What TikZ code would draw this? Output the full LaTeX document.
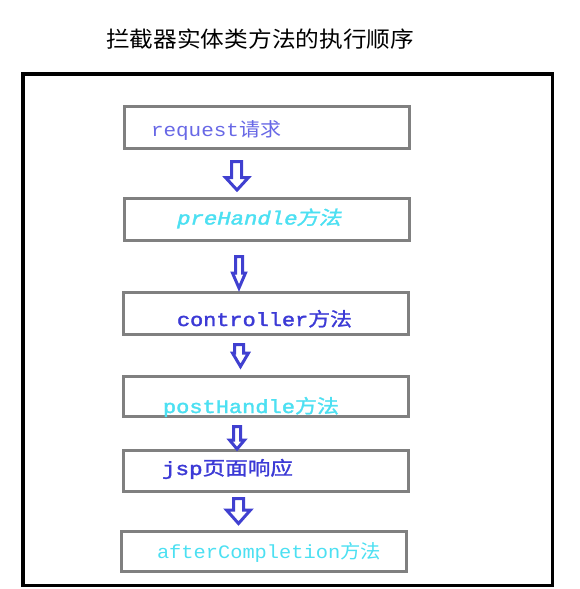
\documentclass[tikz,border=0pt]{standalone}
\usepackage{fontspec}
\usepackage{graphicx}
\setmainfont{Liberation Mono}
\newfontfamily\cjk{Noto Sans CJK SC}
\newfontfamily\cjkb[FakeBold=1.2]{Noto Sans CJK SC}
\newfontfamily\cjkbi[FakeSlant=0.2,FakeBold=1.2]{Noto Sans CJK SC}
\newfontfamily\lmono{Liberation Mono}
\newfontfamily\lmonob[FakeBold=1.8]{Liberation Mono}
\newfontfamily\lmonobi[FakeBold=1.8,FakeSlant=0.2]{Liberation Mono}
\definecolor{framegray}{RGB}{128,128,128}
\definecolor{arrowblue}{RGB}{64,64,208}
\definecolor{txtlav}{RGB}{104,104,230}
\definecolor{txtblue}{RGB}{60,58,214}
\definecolor{txtcyan}{RGB}{76,224,242}
\newcommand\fitw[2]{\resizebox{#1pt}{\height}{#2}}
\newcommand\hollowarrow[8]{%
  \draw[arrowstyle] (#1,#3) -- (#2,#3) -- (#2,#4) -- (#6,#4) -- (#7,#8) -- (#5,#4) -- (#1,#4) -- cycle;}
\begin{document}
\begin{tikzpicture}[x=1pt,y=-1pt,
  boxstyle/.style={draw=framegray, line width=3pt, rectangle, inner sep=0pt, fill=none},
  txtstyle/.style={anchor=base west, inner sep=0pt, outer sep=0pt, font=\fontsize{19}{22}\selectfont\lmono},
  arrowstyle/.style={draw=arrowblue, line width=3pt, line join=miter},
  framestyle/.style={draw=black, line width=3.5pt, rectangle, inner sep=0pt}]
\useasboundingbox (0,0) rectangle (579,589);
\fill[white] (0,0) rectangle (579,589);
% title
\node[anchor=base west, inner sep=0pt] (title) at (106,47) {\fitw{308}{\fontsize{22}{24}\selectfont\cjk 拦截器实体类方法的执行顺序}};
% outer frame
\node[framestyle, minimum width=529.5pt, minimum height=511.5pt] (frame) at (287.75,329.75) {};
% boxes
\node[boxstyle, minimum width=285pt, minimum height=42pt] (b1) at (267,127.5) {};
\node[boxstyle, minimum width=285pt, minimum height=42pt] (b2) at (266.5,219.7) {};
\node[boxstyle, minimum width=285pt, minimum height=41.5pt] (b3) at (265.5,313.3) {};
\node[boxstyle, minimum width=285pt, minimum height=40.3pt] (b4) at (265.5,396.2) {};
\node[boxstyle, minimum width=284.5pt, minimum height=41.3pt] (b5) at (266.2,471.3) {};
\node[boxstyle, minimum width=284.5pt, minimum height=40pt] (b6) at (264.2,551.3) {};
% texts
\node[txtstyle, text=txtlav] (t1) at (151,136) {\fitw{130}{request{\cjk 请求}}};
\node[txtstyle, text=txtcyan] (t2) at (176,224.5) {\fitw{165}{\lmonobi preHandle{\cjkbi 方法}}};
\node[txtstyle, text=txtblue] (t3) at (177,326) {\fitw{175}{\lmonob controller{\cjkb 方法}}};
\node[txtstyle, text=txtcyan] (t4) at (163,413) {\fitw{176}{\lmonob postHandle{\cjkb 方法}}};
\node[txtstyle, text=txtblue] (t5) at (162,475) {\fitw{131}{\lmonob jsp{\cjkb 页面响应}}};
\node[txtstyle, text=txtcyan] (t6) at (157,558) {\fitw{224}{afterCompletion{\cjk 方法}}};
% hollow arrows
\hollowarrow{231.5}{241.5}{161.5}{177.5}{225.5}{248.5}{237}{190}
\hollowarrow{235.5}{242.5}{256.5}{273}{232.5}{245.5}{239}{288}
\hollowarrow{234.5}{243.5}{344.5}{353}{232.5}{248.5}{240.5}{366.5}
\hollowarrow{233.5}{240.5}{426.5}{440}{229.5}{244.5}{237}{449}
\hollowarrow{233.5}{243.5}{498.5}{510}{226.5}{250.5}{238.5}{523.5}
\end{tikzpicture}
\end{document}
